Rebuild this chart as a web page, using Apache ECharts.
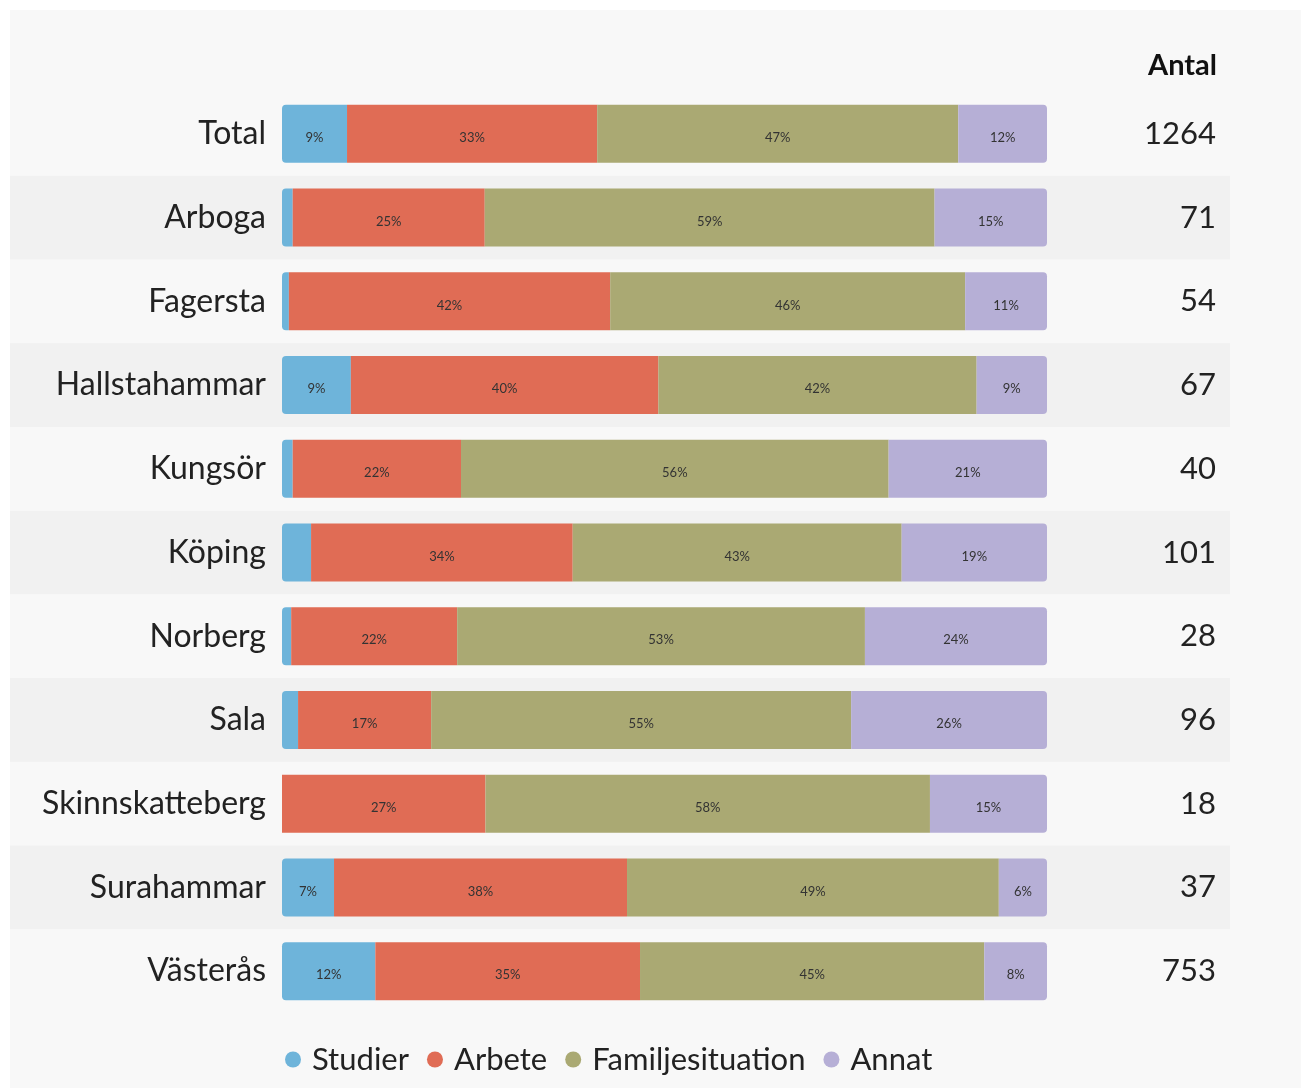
<!DOCTYPE html>
<html>
<head>
    <meta charset="UTF-8" />
    <title>Antal</title>
    <script src="https://cdn.jsdelivr.net/npm/echarts@6/dist/echarts.min.js"></script>
    <style>
        body { margin: 0; background: #ffffff; }
        #chart { position: absolute; left: 10px; top: 10px; width: 1291px; height: 1078px; }
    </style>
</head>
<body>
    <div id="chart"></div>
    <script type="text/javascript">
        var places = ['Total', 'Arboga', 'Fagersta', 'Hallstahammar', 'Kungsör', 'Köping', 'Norberg', 'Sala', 'Skinnskatteberg', 'Surahammar', 'Västerås'];
        var antal = [1264, 71, 54, 67, 40, 101, 28, 96, 18, 37, 753];
        // andel i procent per kommun
        var studier = [8.5, 1.4, 0.9, 9.0, 1.4, 3.8, 1.2, 2.1, 0, 6.8, 12.2];
        var arbete = [32.7, 25.1, 42.0, 40.2, 22.0, 34.2, 21.7, 17.4, 26.6, 38.3, 34.6];
        var familj = [47.2, 58.8, 46.4, 41.6, 55.9, 43.0, 53.3, 54.9, 58.1, 48.6, 45.0];
        var annat = [11.6, 14.7, 10.7, 9.2, 20.7, 19.0, 23.8, 25.6, 15.3, 6.3, 8.2];

        var font = 'Lato, "Open Sans", sans-serif';
        var chart = echarts.init(document.getElementById('chart'));

        var label = {
            show: true,
            position: 'inside',
            offset: [0, 4],
            fontSize: 13,
            fontFamily: font,
            color: '#333',
            formatter: function (p) {
                return p.value < 5 ? '' : Math.round(p.value) + '%';
            }
        };

        function bar(name, data, color, radius) {
            return {
                name: name,
                type: 'bar',
                stack: 'all',
                barWidth: 58,
                xAxisIndex: 0,
                yAxisIndex: 0,
                data: data,
                label: label,
                itemStyle: { color: color, borderRadius: radius },
                emphasis: { disabled: true }
            };
        }

        var option = {
            backgroundColor: '#f8f8f8',
            animation: false,
            textStyle: { fontFamily: font },
            title: {
                text: 'Antal',
                right: 79,
                top: 36,
                textStyle: { fontSize: 29, fontWeight: 'bold', color: '#111', fontFamily: font }
            },
            legend: {
                left: 270,
                top: 1029,
                icon: 'circle',
                itemWidth: 16,
                itemHeight: 16,
                itemGap: 18,
                textStyle: { fontSize: 31, color: '#222', fontFamily: font, padding: [0, 0, 0, 6] },
                data: ['Studier', 'Arbete', 'Familjesituation', 'Annat']
            },
            grid: [
                { left: 272, right: 254, top: 82, bottom: 75 },
                { left: 0, right: 71, top: 82, bottom: 75 }
            ],
            xAxis: [
                { type: 'value', gridIndex: 0, min: 0, max: 100, show: false },
                { type: 'value', gridIndex: 1, min: 0, max: 100, show: false }
            ],
            yAxis: [
                {
                    type: 'category', gridIndex: 0, inverse: true, data: places,
                    axisLine: { show: false }, axisTick: { show: false },
                    axisLabel: { fontSize: 32, color: '#222', margin: 16, fontFamily: font }
                },
                {
                    type: 'category', gridIndex: 0, inverse: true, position: 'right', data: antal,
                    axisLine: { show: false }, axisTick: { show: false },
                    axisLabel: { fontSize: 31, color: '#222', margin: 169, align: 'right', fontFamily: font }
                },
                {
                    type: 'category', gridIndex: 1, inverse: true, data: places,
                    axisLine: { show: false }, axisTick: { show: false }, axisLabel: { show: false },
                    splitArea: { show: true, areaStyle: { color: ['rgba(0,0,0,0)', '#f1f1f1'] } }
                }
            ],
            series: [
                bar('Studier', studier, '#6eb4da', [4, 0, 0, 4]),
                bar('Arbete', arbete, '#e06c55', 0),
                bar('Familjesituation', familj, '#aaa973', 0),
                bar('Annat', annat, '#b6afd6', [0, 4, 4, 0])
            ]
        };
        chart.setOption(option);
    </script>
</body>
</html>
